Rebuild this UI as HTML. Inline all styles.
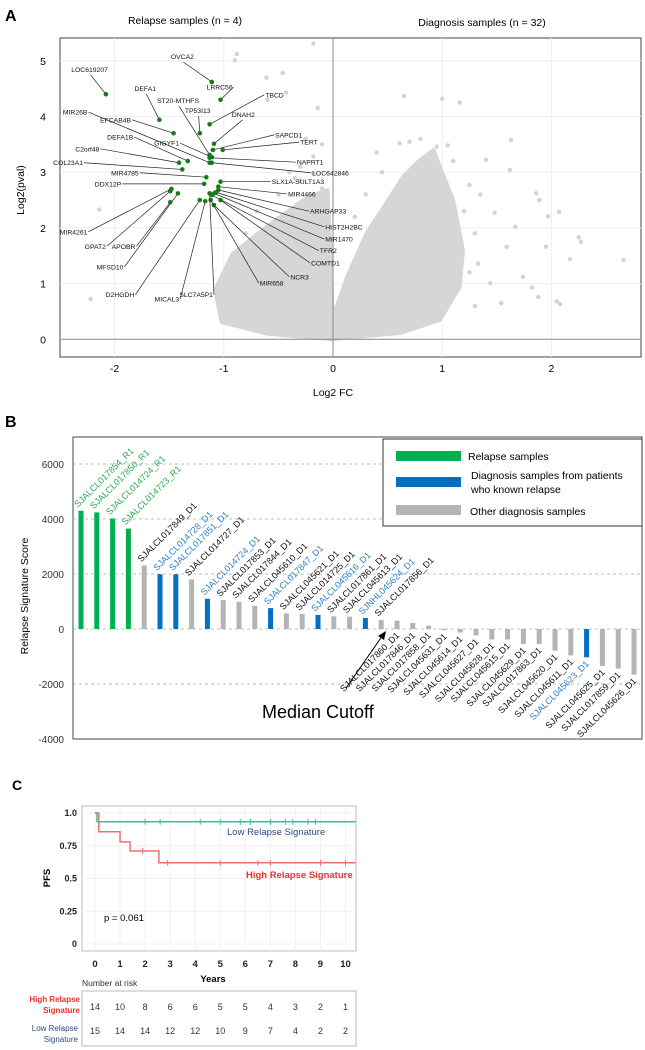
<!DOCTYPE html>
<html><head><meta charset="utf-8">
<style>
body{margin:0;background:#fff;}
svg{display:block;font-family:"Liberation Sans",sans-serif;}
</style></head>
<body>
<svg id="fig" width="645" height="1050" viewBox="0 0 645 1050" xmlns="http://www.w3.org/2000/svg">
<g id="pa">
<text x="5" y="21" font-size="16" font-weight="bold">A</text>
<text x="185" y="24" font-size="10.5" text-anchor="middle">Relapse samples (n = 4)</text>
<text x="482" y="26" font-size="10.5" text-anchor="middle">Diagnosis samples (n = 32)</text>
<rect x="60" y="38" width="581" height="319" fill="#fff" stroke="#444" stroke-width="1"/>
<g id="agrid"></g>
<g id="acloud"></g>
<g id="apts"></g>
<g id="aaxes"></g>
<g id="agenes"></g>
<g id="aticks"></g>
<text x="333" y="396" font-size="10.5" text-anchor="middle">Log2 FC</text>
<text transform="translate(24,190) rotate(-90)" font-size="10.5" text-anchor="middle">Log2(pval)</text>
</g>

<g id="pb">
<text x="5" y="427" font-size="16" font-weight="bold">B</text>
<rect x="73" y="437" width="569" height="302" fill="#fff" stroke="#444"/>
<g id="bgrid"></g>
<g id="bbars"></g>
<g id="blabels"></g>
<g id="bticks"></g>
<text transform="translate(28,596) rotate(-90)" font-size="10.5" text-anchor="middle">Relapse  Signature  Score</text>
<g>
<rect x="383" y="439" width="259" height="87" fill="#fff" stroke="#333"/>
<rect x="396" y="451" width="65" height="10" fill="#00b050"/>
<text x="468" y="460" font-size="10.5">Relapse samples</text>
<rect x="396" y="477" width="65" height="10" fill="#0070c0"/>
<text x="471" y="479" font-size="10.5">Diagnosis samples from patients</text>
<text x="471" y="493" font-size="10.5">who known relapse</text>
<rect x="396" y="505" width="65" height="10" fill="#b4b4b4"/>
<text x="470" y="515" font-size="10.5">Other diagnosis samples</text>
</g>
<line x1="346" y1="688" x2="383" y2="635" stroke="#000" stroke-width="1"/>
<polygon points="386,631 378,636 384,640" fill="#000"/>
<text x="262" y="718" font-size="18">Median Cutoff</text>
</g>

<g id="pc">
<text x="12" y="790" font-size="14" font-weight="bold">C</text>
<rect x="82" y="806" width="274" height="145" fill="#fff" stroke="#bbb"/>
<g id="cgrid"></g>
<g id="ccurves"></g>
<g id="cticks"></g>
<text x="227" y="835" font-size="9.5" fill="#2e4a86">Low Relapse Signature</text>
<text x="246" y="878" font-size="9.5" fill="#e8322e" font-weight="bold">High Relapse Signature</text>
<text x="104" y="921" font-size="9.5">p = 0.061</text>
<text x="213" y="982" font-size="9.5" font-weight="bold" text-anchor="middle">Years</text>
<text transform="translate(50,878) rotate(-90)" font-size="9.5" font-weight="bold" text-anchor="middle">PFS</text>
<text x="82" y="986" font-size="8.5" fill="#333">Number at risk</text>
<rect x="82" y="991" width="274" height="55" fill="#fff" stroke="#bbb"/>
<text x="80" y="1002" font-size="8" fill="#e8322e" font-weight="bold" text-anchor="end">High Relapse</text>
<text x="80" y="1013" font-size="8" fill="#e8322e" font-weight="bold" text-anchor="end">Signature</text>
<text x="78" y="1031" font-size="8" fill="#2e4a86" text-anchor="end">Low Relapse</text>
<text x="78" y="1042" font-size="8" fill="#2e4a86" text-anchor="end">Signature</text>
<g id="crisk"></g>
</g>
</svg>
<script>
var NS='http://www.w3.org/2000/svg';
function mk(tag,attrs,parent){var e=document.createElementNS(NS,tag);for(var k in attrs)e.setAttribute(k,attrs[k]);parent.appendChild(e);return e;}

/* ---------- Panel A data ---------- */
var aXTicks=[-2,-1,0,1,2];
var aYTicks=[0,1,2,3,4,5];
var cloudLeftFc=[0,-0.02,-0.05,-0.24,-0.60,-0.92,-1.08,-1.02,-0.60,0];
var cloudLeftV=[0.08,1.42,2.68,2.54,2.03,1.53,0.89,0.31,0.10,0];
var cloudRightFc=[0,0.13,0.31,0.49,0.64,0.77,0.92,0.98,1.10,1.19,1.16,0.98,0.61,0.16,0];
var cloudRightV=[0.40,1.12,1.91,2.45,2.91,3.17,3.40,3.09,2.50,1.60,0.94,0.35,0.11,0.04,0];
var grayFc=[-0.18,-0.88,-0.90,-0.46,-0.61,-0.43,-0.60,-0.14,0.65,1.00,1.16,1.63,1.62,1.86,1.89,2.07,1.97,2.25,2.27,2.17,2.66,1.95,1.74,1.82,1.88,2.05,2.08,-2.22,-2.14,-0.10,-0.18,0.40,0.61,1.05,0.95,1.40,1.25,1.48,1.67,1.59,1.33,1.44,1.54,-0.18,-0.10,-0.20,-0.3,-0.35,-0.5,-0.7,-0.4,-0.3,0.3,0.45,0.2,1.2,1.3,1.25,1.1,0.7,0.8,-0.25,-0.8,-0.95,1.3,1.35];
var grayV=[5.31,5.12,5.01,4.78,4.70,4.43,4.30,4.15,4.37,4.32,4.25,3.58,3.04,2.62,2.50,2.29,2.21,1.83,1.75,1.44,1.42,1.66,1.12,0.93,0.76,0.68,0.63,0.72,2.33,3.50,3.28,3.35,3.52,3.48,3.46,3.22,2.77,2.27,2.02,1.66,1.36,1.01,0.65,2.98,2.71,2.50,3.1,2.9,2.6,2.3,3.0,2.85,2.6,3.0,2.2,2.3,1.9,1.2,3.2,3.55,3.6,3.6,1.9,1.0,0.6,2.6];
var geneNames=['LOC619207','OVCA2','LRRC56','TBCD','DEFA1','MIR26B','EFCAB4B','ST20-MTHFS','TP53I13','DNAH2','SAPCD1','TERT','GIGYF1','NAPRT1','DEFA1B','C2orf48','COL23A1','LOC642846','MIR4785','DDX12P','SLX1A-SULT1A3','MIR4466','ARHGAP33','HIST2H2BC','MIR1470','TFR2','COMTD1','NCR3','MIR658','SLC7A5P1','MICAL3','D2HGDH','MFSD10','APOBR','GPAT2','MIR4261'];
var geneFc=[-2.08,-1.11,-1.03,-1.13,-1.59,-1.13,-1.46,-1.13,-1.22,-1.09,-1.10,-1.01,-1.11,-1.13,-1.33,-1.41,-1.38,-1.11,-1.16,-1.18,-1.03,-1.05,-1.05,-1.07,-1.09,-1.11,-1.03,-1.09,-1.12,-1.13,-1.17,-1.22,-1.42,-1.49,-1.49,-1.48];
var geneV=[4.40,4.62,4.30,3.86,3.94,3.17,3.70,3.31,3.70,3.51,3.40,3.40,3.27,3.26,3.20,3.17,3.05,3.17,2.91,2.79,2.83,2.74,2.68,2.64,2.62,2.59,2.50,2.41,2.50,2.62,2.48,2.50,2.62,2.46,2.66,2.70];
var labelFc=[-2.22,-1.37,-0.91,-0.63,-1.71,-2.24,-1.84,-1.41,-1.23,-0.83,-0.54,-0.31,-1.40,-0.34,-1.82,-2.13,-2.28,-0.20,-1.77,-1.93,-0.57,-0.42,-0.22,-0.08,-0.08,-0.13,-0.21,-0.40,-0.68,-1.09,-1.40,-1.81,-1.91,-1.80,-2.07,-2.24];
var labelV=[4.80,5.03,4.53,4.39,4.46,4.08,3.94,4.24,4.06,3.99,3.67,3.54,3.52,3.18,3.63,3.42,3.17,2.99,2.99,2.79,2.83,2.61,2.30,2.02,1.80,1.59,1.37,1.12,1.01,0.80,0.72,0.80,1.30,1.67,1.67,1.93];

function ax(fc){return 333+109.2*fc;}
function ay(v){return 339.3-55.7*v;}
(function(){
 var g=document.getElementById('agrid');
 aXTicks.forEach(function(t){var l=mk('line',{x1:ax(t),x2:ax(t),y1:38,y2:357,stroke:'#eee'},g);});
 aYTicks.forEach(function(t){var l=mk('line',{x1:60,x2:641,y1:ay(t),y2:ay(t),stroke:'#eee'},g);});
 var c=document.getElementById('acloud');
 function poly(fx,vy,name){var p=fx.map(function(f,i){return ax(f)+','+ay(vy[i]);}).join(' ');var e=mk('polygon',{points:p,fill:'#d6d6d6',stroke:'#d6d6d6','stroke-width':4,'stroke-linejoin':'round'},c);}
 poly(cloudLeftFc,cloudLeftV,'left-cloud');poly(cloudRightFc,cloudRightV,'right-cloud');
 var pg=document.getElementById('apts');
 grayFc.forEach(function(f,i){var e=mk('circle',{cx:ax(f),cy:ay(grayV[i]),r:2.2,fill:'#d3d3d3'},pg);});
 var a=document.getElementById('aaxes');
 var e1=mk('line',{x1:ax(0),x2:ax(0),y1:38,y2:357,stroke:'#888'},a);
 var e2=mk('line',{x1:60,x2:641,y1:ay(0),y2:ay(0),stroke:'#888'},a);
 var gg=document.getElementById('agenes');
 geneNames.forEach(function(n,i){
  var px=ax(geneFc[i]),py=ay(geneV[i]),lx=ax(labelFc[i]),ly=ay(labelV[i]);
  var right=lx>px+20, above=ly<py-15 && Math.abs(lx-px)<40;
  var anchor=above?'middle':(right?'start':'end');
  var ty=above?ly:ly+2.5;
  var ln=mk('line',{x1:px,y1:py,x2:lx,y2:above?ly+3:ly,stroke:'#222','stroke-width':0.7},gg);
  var d=mk('circle',{cx:px,cy:py,r:2.3,fill:'#1a7a1a'},gg);
  var t=mk('text',{x:right?lx+1:lx-1,y:ty,'font-size':6.8,'text-anchor':anchor,fill:'#111'},gg);t.textContent=n;
 });
 var tk=document.getElementById('aticks');
 aXTicks.forEach(function(t){var e=mk('text',{x:ax(t),y:372,'font-size':10.5,'text-anchor':'middle'},tk);e.textContent=t;});
 aYTicks.forEach(function(t){var e=mk('text',{x:46,y:ay(t)+4,'font-size':10.5,'text-anchor':'end'},tk);e.textContent=t;});
})();

/* ---------- Panel B data ---------- */
var sampleNames=['SJALCL017854_R1','SJALCL017850_R1','SJALCL014724_R1','SJALCL014723_R1','SJALCL017849_D1','SJALCL014728_D1','SJALCL017851_D1','SJALCL014727_D1','SJALCL014724_D1','SJALCL017853_D1','SJALCL017844_D1','SJALCL045610_D1','SJALCL017847_D1','SJALCL045621_D1','SJALCL014725_D1','SJALCL045616_D1','SJALCL017861_D1','SJALCL045613_D1','SJNHL045624_D1','SJALCL017856_D1','SJALCL017860_D1','SJALCL017846_D1','SJALCL017858_D1','SJALCL045631_D1','SJALCL045614_D1','SJALCL045627_D1','SJALCL045628_D1','SJALCL045615_D1','SJALCL045629_D1','SJALCL017863_D1','SJALCL045620_D1','SJALCL045611_D1','SJALCL045623_D1','SJALCL045625_D1','SJALCL017859_D1','SJALCL045626_D1'];
var sampleScores=[4300,4240,4020,3650,2310,1990,1990,1800,1100,1050,990,840,760,570,545,510,460,450,400,330,300,220,120,-40,-130,-230,-380,-380,-545,-545,-790,-960,-1030,-1345,-1440,-1660];
var sampleGroup=['R','R','R','R','O','K','K','O','K','O','O','O','K','O','O','K','O','O','K','O','O','O','O','O','O','O','O','O','O','O','O','O','K','O','O','O'];
var bTicks=[6000,4000,2000,0,-2000,-4000];
var labelAboveCount=20;
function bx(i){return 81+i*15.8;}
function by(v){return 629-v*0.0275;}
(function(){
 var fill={R:'#00b050',K:'#0070c0',O:'#b4b4b4'}, txt={R:'#2ea84f',K:'#2f7fc8',O:'#111'};
 var g=document.getElementById('bgrid');
 bTicks.forEach(function(t){if(t===-4000)return;var e=mk('line',{x1:73,x2:642,y1:by(t),y2:by(t),stroke:'#aaa','stroke-dasharray':'3,3','stroke-width':0.8},g);});
 var bg=document.getElementById('bbars'),lg=document.getElementById('blabels');
 sampleScores.forEach(function(v,i){
  var y0=by(0),y1=by(v);
  var r=mk('rect',{x:bx(i)-2.5,y:Math.min(y0,y1),width:5,height:Math.abs(y1-y0),fill:fill[sampleGroup[i]]},bg);
  
  var t;
  if(i<labelAboveCount){t=mk('text',{transform:'translate('+(bx(i)-3)+','+(y1-3)+') rotate(-45)','font-size':9,fill:txt[sampleGroup[i]]},lg);}
  else{t=mk('text',{transform:'translate('+(bx(i)+3)+','+(Math.max(y0,y1)+7)+') rotate(-45)','font-size':9,'text-anchor':'end',fill:txt[sampleGroup[i]]},lg);}
  t.textContent=sampleNames[i];
 });
 var tk=document.getElementById('bticks');
 bTicks.forEach(function(t){var e=mk('text',{x:64,y:by(t)+4,'font-size':10,'text-anchor':'end',fill:'#333'},tk);e.textContent=t;});
})();

/* ---------- Panel C data ---------- */
var kmXTicks=[0,1,2,3,4,5,6,7,8,9,10];
var kmYTicks=[0,0.25,0.5,0.75,1.0];
var kmYTickLabels=['0','0.25','0.5','0.75','1.0'];
var lowTimes=[0,0.08];
var lowSurv=[1.0,0.933];
var lowCensor=[2,2.6,4.2,5,5.8,6.2,7,7.6,7.9,8.5,8.8];
var highTimes=[0,0.15,1.0,1.4,2.55];
var highSurv=[1.0,0.857,0.78,0.71,0.62];
var highCensor=[1.9,2.9,5,6.5,7,9,10];
var riskHigh=[14,10,8,6,6,5,5,4,3,2,1];
var riskLow=[15,14,14,12,12,10,9,7,4,2,2];
var kmEnd=10.4;
function cx(t){return 95+25.05*t;}
function cy(s){return 944-131*s;}
(function(){
 var g=document.getElementById('cgrid');
 kmXTicks.forEach(function(t){var e=mk('line',{x1:cx(t),x2:cx(t),y1:806,y2:951,stroke:'#f0f0f0'},g);});
 kmYTicks.forEach(function(t){var e=mk('line',{x1:82,x2:356,y1:cy(t),y2:cy(t),stroke:'#f0f0f0'},g);});
 var cg=document.getElementById('ccurves');
 function curve(ts,ss,cens,col,name){
  var d='M'+cx(ts[0])+','+cy(ss[0]);
  for(var i=1;i<ts.length;i++){d+=' H'+cx(ts[i])+' V'+cy(ss[i]);}
  d+=' H'+cx(kmEnd);
  var p=mk('path',{d:d,fill:'none',stroke:col,'stroke-width':1.5},cg);
  cens.forEach(function(c){var s=ss[0];for(var i=0;i<ts.length;i++)if(ts[i]<=c)s=ss[i];var l=mk('line',{x1:cx(c),x2:cx(c),y1:cy(s)-3,y2:cy(s)+3,stroke:col,'stroke-width':1},cg);});
 }
 curve(highTimes,highSurv,highCensor,'#f07070','high-signature-curve');
 curve(lowTimes,lowSurv,lowCensor,'#26c6a6','low-signature-curve');
 var tk=document.getElementById('cticks');
 kmXTicks.forEach(function(t){var e=mk('text',{x:cx(t),y:967,'font-size':9.5,'font-weight':'bold','text-anchor':'middle',fill:'#222'},tk);e.textContent=t;});
 kmYTicks.forEach(function(t,i){var e=mk('text',{x:77,y:cy(t)+3,'font-size':9,'font-weight':'bold','text-anchor':'end',fill:'#222'},tk);e.textContent=kmYTickLabels[i];});
 var rg=document.getElementById('crisk');
 riskHigh.forEach(function(n,i){var e=mk('text',{x:cx(kmXTicks[i]),y:1010,'font-size':9,'text-anchor':'middle',fill:'#333'},rg);e.textContent=n;});
 riskLow.forEach(function(n,i){var e=mk('text',{x:cx(kmXTicks[i]),y:1034,'font-size':9,'text-anchor':'middle',fill:'#333'},rg);e.textContent=n;});
})();
</script>
</body></html>
